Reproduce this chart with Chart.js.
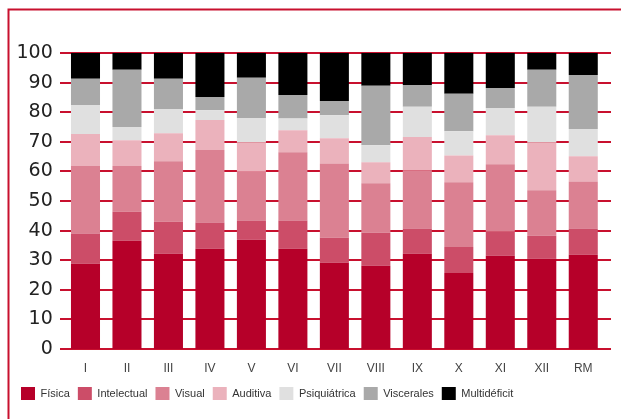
<!DOCTYPE html>
<html>
<head>
<meta charset="utf-8">
<style>
  html, body { margin: 0; padding: 0; background: #fff; }
  #wrap { width: 621px; height: 419px; position: relative; }
</style>
<script src="https://cdn.jsdelivr.net/npm/chart.js@4/dist/chart.umd.min.js"></script>
</head>
<body>
<div id="wrap"><canvas id="chart"></canvas></div>
<script>
  var categories = ['I', 'II', 'III', 'IV', 'V', 'VI', 'VII', 'VIII', 'IX', 'X', 'XI', 'XII', 'RM'];

  var fisica       = [28.8, 36.6, 32.2, 33.9, 36.9, 33.9, 29.1, 28.1, 32.2, 25.7, 31.5, 30.5, 31.8];
  var intelectual  = [10.2,  9.8, 10.8,  8.8,  6.5,  9.5,  8.5, 11.2,  8.5,  8.8,  8.1,  7.8,  8.9];
  var visual       = [22.8, 15.4, 20.4, 24.5, 16.5, 23.1, 25.1, 16.7, 19.7, 21.8, 22.8, 15.3, 15.9];
  var auditiva     = [10.8,  8.7,  9.5, 10.2,  9.9,  7.4,  8.5,  7.1, 11.2,  9.1,  9.8, 16.2,  8.5];
  var psiquiatrica = [ 9.8,  4.5,  8.2,  3.3,  8.2,  4.0,  7.8,  5.7, 10.2,  8.2,  9.2, 12.0,  9.2];
  var viscerales   = [ 8.9, 19.3, 10.2,  4.4, 13.6,  7.9,  4.8, 20.1,  7.4, 12.6,  6.8, 12.5, 18.3];
  var multideficit = [ 8.7,  5.7,  8.7, 14.9,  8.4, 14.2, 16.2, 11.1, 10.8, 13.8, 11.8,  5.7,  7.4];

  var yTicks = [0, 10, 20, 30, 40, 50, 60, 70, 80, 90, 100];

  var RED = '#C8102E';

  function ds(label, data, color) {
    return { label: label, data: data, backgroundColor: color, borderWidth: 0 };
  }

  // marco rojo de la figura y lineas horizontales algo mas anchas que el area
  var framePlugin = {
    id: 'frame',
    beforeDraw: function (chart) {
      var ctx = chart.ctx;
      ctx.save();
      ctx.strokeStyle = RED;
      ctx.lineWidth = 2;
      ctx.beginPath();
      ctx.moveTo(8.5, 419);
      ctx.lineTo(8.5, 9.5);
      ctx.lineTo(621, 9.5);
      ctx.stroke();
      ctx.restore();
    },
    beforeDatasetsDraw: function (chart) {
      var ctx = chart.ctx;
      var y = chart.scales.y;
      ctx.save();
      ctx.strokeStyle = RED;
      ctx.lineWidth = 2;
      yTicks.forEach(function (v) {
        var py = Math.round(y.getPixelForValue(v));
        ctx.beginPath();
        ctx.moveTo(60, py);
        ctx.lineTo(611, py);
        ctx.stroke();
      });
      ctx.restore();
    }
  };

  new Chart(document.getElementById('chart'), {
    type: 'bar',
    data: {
      labels: categories,
      datasets: [
        ds('Física', fisica, '#B60029'),
        ds('Intelectual', intelectual, '#CC4D68'),
        ds('Visual', visual, '#DB8192'),
        ds('Auditiva', auditiva, '#EBB2BC'),
        ds('Psiquiátrica', psiquiatrica, '#E0E0E0'),
        ds('Viscerales', viscerales, '#A9A9A9'),
        ds('Multidéficit', multideficit, '#000000')
      ]
    },
    options: {
      responsive: true,
      maintainAspectRatio: false,
      animation: false,
      barPercentage: 0.7,
      categoryPercentage: 1,
      layout: { padding: { left: 13, right: 17, top: 53, bottom: 9 } },
      plugins: {
        legend: {
          position: 'bottom',
          align: 'start',
          labels: {
            boxWidth: 14,
            boxHeight: 13,
            padding: 8,
            color: '#333',
            font: { family: "'Liberation Sans', Arial, sans-serif", size: 11 }
          }
        },
        tooltip: { enabled: false }
      },
      scales: {
        x: {
          stacked: true,
          grid: { display: false, drawTicks: false },
          border: { display: false },
          ticks: { color: '#444', padding: 12, font: { family: "'Liberation Sans', sans-serif", size: 12 } },
          afterFit: function (s) { s.height = 30; }
        },
        y: {
          stacked: true,
          min: 0,
          max: 100,
          grid: { display: false, drawTicks: false },
          border: { display: false },
          afterBuildTicks: function (s) { s.ticks = yTicks.map(function (v) { return { value: v }; }); },
          afterFit: function (s) { s.width = 51.75; },
          ticks: { color: '#222', padding: 12, font: { family: "'DejaVu Sans', sans-serif", size: 19 } }
        }
      }
    },
    plugins: [framePlugin]
  });
</script>
</body>
</html>
